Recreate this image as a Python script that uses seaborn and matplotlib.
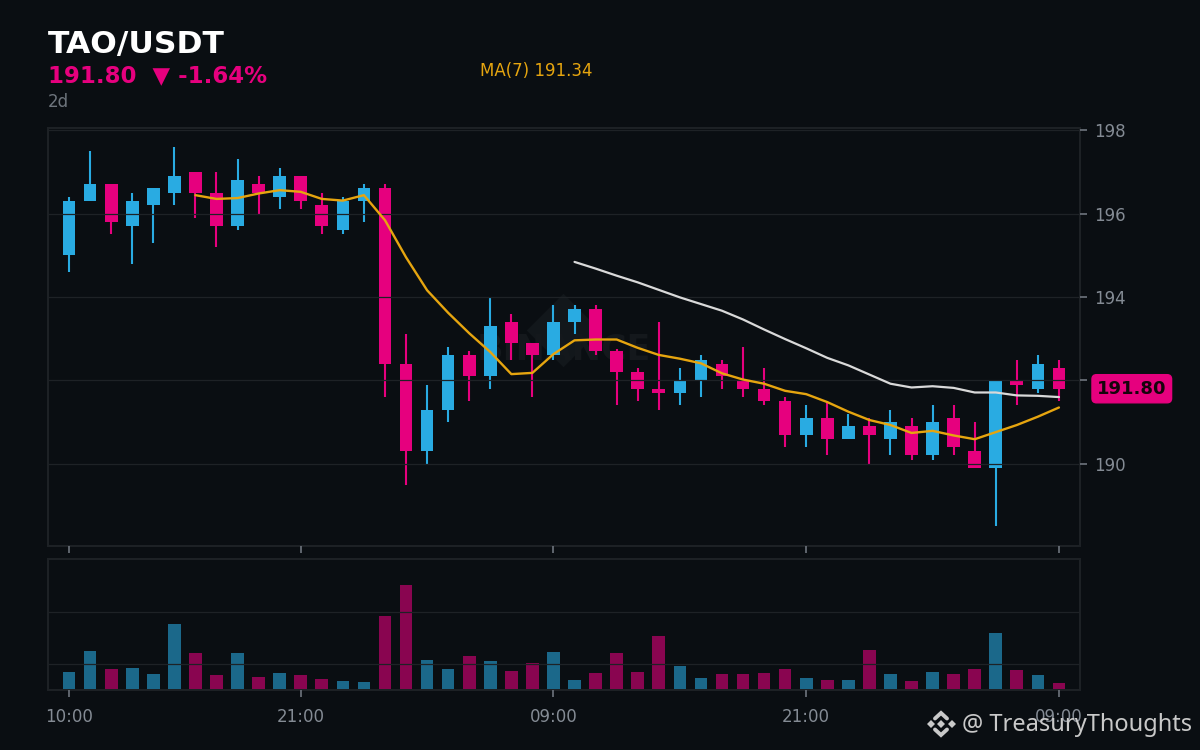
import matplotlib
matplotlib.use('Agg')
import matplotlib.pyplot as plt
import seaborn as sns
import pandas as pd
from matplotlib.lines import Line2D

# Candle data
opens = [195.0, 196.3, 196.7, 195.7, 196.2, 196.5, 197.0, 196.5, 195.7, 196.7, 196.4, 196.9,
         196.2, 195.6, 196.3, 196.6, 192.4, 190.3, 191.3, 192.6, 192.1, 193.4, 192.9, 192.6,
         193.4, 193.7, 192.7, 192.2, 191.8, 191.7, 192.0, 192.4, 192.0, 191.8, 191.5, 190.7,
         191.1, 190.6, 190.9, 190.6, 190.9, 190.2, 191.1, 190.3, 189.9, 192.0, 191.8, 192.3]
closes = [196.3, 196.7, 195.8, 196.3, 196.6, 196.9, 196.5, 195.7, 196.8, 196.5, 196.9, 196.3,
          195.7, 196.3, 196.6, 192.4, 190.3, 191.3, 192.6, 192.1, 193.3, 192.9, 192.6, 193.4,
          193.7, 192.7, 192.2, 191.8, 191.7, 192.0, 192.5, 192.1, 191.8, 191.5, 190.7, 191.1,
          190.6, 190.9, 190.7, 191.0, 190.2, 191.0, 190.4, 189.9, 192.0, 191.9, 192.4, 191.8]
highs = [196.4, 197.5, 196.7, 196.5, 196.6, 197.6, 197.0, 197.0, 197.3, 196.9, 197.1, 196.9,
         196.5, 196.4, 196.7, 196.7, 193.1, 191.9, 192.8, 192.7, 194.0, 193.6, 192.9, 193.8,
         193.8, 193.8, 192.75, 192.3, 193.4, 192.3, 192.6, 192.5, 192.8, 192.3, 191.6, 191.4,
         191.5, 191.2, 191.1, 191.3, 191.1, 191.4, 191.4, 191.0, 192.0, 192.5, 192.6, 192.5]
lows = [194.6, 196.3, 195.5, 194.8, 195.3, 196.2, 195.9, 195.2, 195.6, 196.0, 196.1, 196.1,
        195.5, 195.5, 195.8, 191.6, 189.5, 190.0, 191.0, 191.5, 191.8, 192.5, 191.6, 192.5,
        193.1, 192.6, 191.4, 191.5, 191.3, 191.4, 191.6, 191.8, 191.6, 191.4, 190.4, 190.4,
        190.2, 190.6, 190.0, 190.2, 190.1, 190.1, 190.2, 189.9, 188.5, 191.4, 191.7, 191.5]
volumes = [17, 38, 20, 21, 15, 65, 36, 14, 36, 12, 16, 14, 10, 8, 7, 73, 104, 29, 20, 33, 28, 18, 26, 37,
           9, 16, 36, 17, 53, 23, 11, 15, 15, 16, 20, 11, 9, 9, 39, 15, 8, 17, 15, 20, 56, 19, 14, 6]

# Moving averages (start part way through the series)
ma7 = [196.44, 196.35, 196.37, 196.48, 196.56, 196.52, 196.35, 196.31, 196.44, 195.84, 194.95, 194.16,
       193.62, 193.13, 192.68, 192.15, 192.18, 192.63, 192.96, 192.98, 192.98, 192.78, 192.61, 192.52,
       192.41, 192.17, 192.02, 191.92, 191.75, 191.67, 191.48, 191.25, 191.05, 190.93, 190.74, 190.79,
       190.68, 190.59, 190.76, 190.93, 191.13, 191.35]
ma25 = [194.84, 194.68, 194.51, 194.35, 194.17, 193.99, 193.83, 193.67, 193.46, 193.22, 192.99, 192.77,
        192.54, 192.36, 192.14, 191.92, 191.83, 191.86, 191.82, 191.71, 191.71, 191.64, 191.63, 191.60]

time_ticks = [0, 11, 23, 35, 47]
time_labels = ['10:00', '21:00', '09:00', '21:00', '09:00']
price_ticks = [190, 192, 194, 196, 198]
vol_grid = [25.5, 77.5]

BG = '#0a0e12'
UP = '#29abe2'
DOWN = '#e6007e'
YELLOW = '#e6a50f'
WHITE_LINE = '#d9d9d9'
GRID = '#1e2226'
TICK = '#6e757d'
LABEL = '#848b94'

sns.set_theme(style='dark', rc={
    'figure.facecolor': BG, 'axes.facecolor': BG, 'axes.edgecolor': GRID, 'axes.linewidth': 1.4,
    'grid.color': GRID, 'grid.linewidth': 0.9, 'xtick.color': TICK, 'ytick.color': TICK,
    'text.color': LABEL,
})
plt.rcParams['font.family'] = ['DejaVu Sans']

x = list(range(len(opens)))
candle_df = pd.DataFrame({'x': x, 'open': opens, 'close': closes, 'high': highs, 'low': lows, 'volume': volumes})
candle_df['side'] = ['up' if c >= o else 'down' for o, c in zip(opens, closes)]
palette = {'up': UP, 'down': DOWN}
colors = candle_df['side'].map(palette)

fig = plt.figure(figsize=(12, 7.5), dpi=100)
ax = fig.add_axes([48 / 1200, 1 - 546 / 750, 1032 / 1200, 418 / 750])
ax_vol = fig.add_axes([48 / 1200, 1 - 690 / 750, 1032 / 1200, 131 / 750])

# Faint exchange watermark behind the candles
ax.scatter([0.499], [0.517], s=1400, marker='D', color='#12171b', transform=ax.transAxes, zorder=0.5, linewidths=0)
ax.text(0.5, 0.469, 'BINANCE', transform=ax.transAxes, ha='center', va='center', fontsize=25,
        fontweight='bold', color='#14181c', zorder=0.6)

# Candles
ax.vlines(candle_df['x'], candle_df['low'], candle_df['high'], colors=colors, linewidth=1.5, zorder=2)
ax.bar(candle_df['x'], (candle_df['close'] - candle_df['open']).abs(),
       bottom=candle_df[['open', 'close']].min(axis=1), width=0.6, color=colors, linewidth=0, zorder=2.1)

# Moving averages
sns.lineplot(x=x[-len(ma7):], y=ma7, color=YELLOW, linewidth=1.7, ax=ax, zorder=3)
sns.lineplot(x=x[-len(ma25):], y=ma25, color=WHITE_LINE, linewidth=1.6, ax=ax, zorder=3)

ax.set_xlim(-1, 48)
ax.set_ylim(188.03, 198.05)
ax.set_xticks(time_ticks)
ax.set_xticklabels([])
ax.set_yticks(price_ticks)
ax.yaxis.tick_right()
ax.tick_params(axis='y', length=5, width=1.2, labelsize=12, labelcolor=LABEL, pad=5, right=True, left=False)
ax.tick_params(axis='x', length=5, width=1.2, bottom=True)
ax.grid(True, axis='y')
ax.grid(False, axis='x')
ax.set_axisbelow(False)
ax.set_xlabel('')
ax.set_ylabel('')

# Last price tag
ax.text(1.0165, 191.8, '191.80', transform=ax.get_yaxis_transform(), ha='left', va='center', fontsize=13,
        fontweight='bold', color='#16040c', clip_on=False, zorder=5,
        bbox=dict(boxstyle='round,pad=0.28,rounding_size=0.25', facecolor=DOWN, edgecolor=DOWN))

# Volume bars
sns.barplot(data=candle_df, x='x', y='volume', hue='side', palette=palette, native_scale=True, dodge=False,
            width=0.6, errorbar=None, saturation=1, alpha=0.58, linewidth=0, legend=False, ax=ax_vol, zorder=2)
ax_vol.set_xlim(-1, 48)
ax_vol.set_ylim(-1, 130)
ax_vol.set_xticks(time_ticks)
ax_vol.set_xticklabels(time_labels)
ax_vol.set_yticks(vol_grid)
ax_vol.set_yticklabels([])
ax_vol.tick_params(axis='y', length=0)
ax_vol.tick_params(axis='x', length=5, width=1.2, labelsize=12, labelcolor=LABEL, pad=8, bottom=True)
ax_vol.grid(True, axis='y')
ax_vol.grid(False, axis='x')
ax_vol.set_axisbelow(False)
ax_vol.set_xlabel('')
ax_vol.set_ylabel('')

# Header text
fig.text(48 / 1200, 1 - 44 / 750, 'TAO/USDT', fontsize=22.6, fontweight='bold', color='white', va='center')
fig.text(48 / 1200, 1 - 75.5 / 750, '191.80  ▼ -1.64%', fontsize=16.5, fontweight='bold', color=DOWN, va='center')
fig.text(48 / 1200, 1 - 102 / 750, '2d', fontsize=12, color=TICK, va='center')
fig.text(480 / 1200, 1 - 71 / 750, 'MA(7) 191.34', fontsize=12, color=YELLOW, va='center')

# Corner credit with small logo
CREDIT = '#c9c9c9'
fig.text(1192 / 1200, 1 - 725 / 750, '@ TreasuryThoughts', fontsize=17, color=CREDIT, ha='right', va='center',
         family='Noto Sans')
def fx(px):
    return px / 1200
def fy(py):
    return 1 - py / 750
for px, size in [(941, 4.5), (930.5, 4), (951.5, 4)]:
    fig.add_artist(Line2D([fx(px)], [fy(724)], marker='D', markersize=size, color=CREDIT, linewidth=0,
                          markeredgewidth=0, transform=fig.transFigure))
for py_end, py_tip in [(718.5, 713), (729.5, 735)]:
    fig.add_artist(Line2D([fx(935), fx(941), fx(947)], [fy(py_end), fy(py_tip), fy(py_end)], color=CREDIT,
                          linewidth=2.8, solid_joinstyle='miter', transform=fig.transFigure))

plt.savefig('out.png', dpi=100, facecolor=BG)
plt.close()
